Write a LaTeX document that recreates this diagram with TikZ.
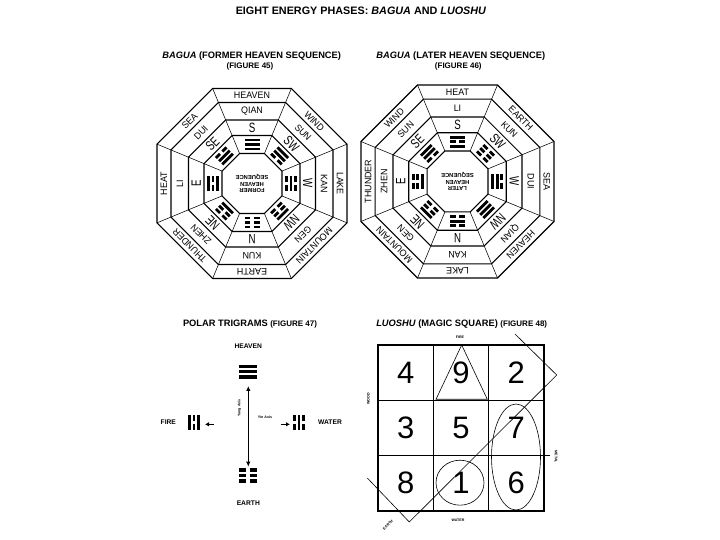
\documentclass[tikz,border=0pt]{standalone}
\usepackage{fontspec}
\setmainfont{Liberation Sans}
\newfontfamily\condfont[FakeStretch=0.72]{Liberation Sans}
\newfontfamily\bandfont[FakeStretch=0.95]{Liberation Sans}
\usetikzlibrary{arrows.meta}
\newcommand\trigline[2]{%
  \ifnum#1=1\relax
    \fill (-7.5,#2-1.4) rectangle (7.5,#2+1.4);%
  \else
    \fill (-7.5,#2-1.4) rectangle (-1.6,#2+1.4);%
    \fill (1.6,#2-1.4) rectangle (7.5,#2+1.4);%
  \fi}
\newcommand\octring[2][ring]{%
  \draw[#1] (22.5:#2*1.08239) \foreach \j in {1,...,7}{ -- (22.5+45*\j:#2*1.08239)} -- cycle;}
\tikzset{
  ring/.style={line width=1.05pt},
  outerring/.style={line width=1.15pt},
  spoke/.style={line width=0.55pt},
  bandlbl/.style={font=\bandfont\fontsize{9.4}{10}\selectfont, inner sep=0pt},
  dirlbl/.style={font=\condfont\fontsize{13.5}{14}\selectfont, inner sep=0pt},
  centerlbl/.style={font=\bfseries\fontsize{5.8}{6.3}\selectfont, align=center, inner sep=0pt},
  ttl/.style={font=\bfseries\fontsize{9.3}{10}\selectfont, inner sep=0pt},
  figlbl/.style={font=\bfseries\fontsize{8}{9}\selectfont, inner sep=0pt},
  plbl/.style={font=\bfseries\fontsize{6.7}{7}\selectfont, inner sep=0pt},
  tinylbl/.style={font=\bfseries\fontsize{3.6}{4}\selectfont, inner sep=0pt},
  num/.style={font=\fontsize{31}{31}\selectfont, inner sep=0pt},
  gridline/.style={line width=1.5pt},
  thinline/.style={line width=0.6pt},
  axisarrow/.style={line width=1.2pt, {Latex[length=5pt,width=4.5pt]}-{Latex[length=5pt,width=4.5pt]}},
  sidearrow/.style={line width=1.4pt, -{Latex[length=4pt,width=4.5pt]}},
  pics/trig/.style n args={3}{code={\trigline{#1}{-4.5}\trigline{#2}{0}\trigline{#3}{4.5}}},
}
% #1 center, #2 scale, #3 list, #4 center text, #5 name prefix
\newcommand\baguafig[5]{%
\begin{scope}[shift={#1}, scale=#2]
  \octring[outerring]{95}\octring{81}\octring{63.5}\octring{48}\octring{30}
  \foreach \j in {0,...,7}\draw[spoke] (22.5+45*\j:32.47) -- (22.5+45*\j:102.83);
  \foreach \k/\ot/\st/\dt/\ta/\tb/\tc in {#3}{
    \pgfmathsetmacro\ang{90-45*\k}
    \node[bandlbl, rotate=\ang-90] (#5o\k) at (\ang:88) {\ot};
    \node[bandlbl, rotate=\ang-90] (#5s\k) at (\ang:72.2) {\st};
    \node[dirlbl, rotate=\ang-90] (#5d\k) at (\ang:55.8) {\dt};
    \pic[rotate=\ang-90] (#5t\k) at (\ang:39) {trig={\ta}{\tb}{\tc}};
  }
  \node[centerlbl, rotate=180] (#5c) at (0,0) {#4};
\end{scope}}
\begin{document}
\begin{tikzpicture}[x=1pt, y=1pt]
\useasboundingbox (0,0) rectangle (720,540);
\fill[white] (0,0) rectangle (720,540);
% main title
\node[font=\bfseries\fontsize{10.8}{12}\selectfont, inner sep=0pt] (title) at (361,529)
  {EIGHT ENERGY PHASES: \textit{BAGUA} AND \textit{LUOSHU}};
% ---- Bagua former heaven
\node[ttl] (t45) at (251.7,484) {\textit{BAGUA} (FORMER HEAVEN SEQUENCE)};
\node[figlbl] (f45) at (250,473.5) {(FIGURE 45)};
\baguafig{(252,356.5)}{1}{0/HEAVEN/QIAN/S/1/1/1, 1/WIND/SUN/SW/0/1/1, 2/LAKE/KAN/W/0/1/0, 3/MOUNTAIN/GEN/NW/0/0/1, 4/EARTH/KUN/N/0/0/0, 5/THUNDER/ZHEN/NE/1/0/0, 6/HEAT/LI/E/1/0/1, 7/SEA/DUI/SE/1/1/0}{FORMER\\HEAVEN\\SEQUENCE}{L}
% ---- Bagua later heaven
\node[ttl] (t46) at (460.8,484) {\textit{BAGUA} (LATER HEAVEN SEQUENCE)};
\node[figlbl] (f46) at (458.3,473.5) {(FIGURE 46)};
\baguafig{(457.5,358.5)}{1.016}{0/HEAT/LI/S/1/0/1, 1/EARTH/KUN/SW/0/0/0, 2/SEA/DUI/W/1/1/0, 3/HEAVEN/QIAN/NW/1/1/1, 4/LAKE/KAN/N/0/1/0, 5/MOUNTAIN/GEN/NE/0/0/1, 6/THUNDER/ZHEN/E/1/0/0, 7/WIND/SUN/SE/0/1/1}{LATER\\HEAVEN\\SEQUENCE}{R}
% ---- Polar trigrams
\node[ttl] (t47) at (250,215.5) {POLAR TRIGRAMS {\fontsize{8}{9}\selectfont (FIGURE 47)}};
\node[plbl] (heaven) at (248.3,193.3) {HEAVEN};
\pic[scale=1.2] (qian) at (248.3,168.3) {trig={1}{1}{1}};
\pic[scale=1.2] (kun) at (248.3,64.5) {trig={0}{0}{0}};
\node[plbl] (earth) at (248.3,37) {EARTH};
\node[plbl] (fire) at (168.3,118.3) {FIRE};
\node[plbl] (water) at (330,118.3) {WATER};
\pic[rotate=90, scale=1.05] (li) at (194,117.5) {trig={1}{0}{1}};
\pic[rotate=90, scale=1.05] (kan) at (299,117.5) {trig={0}{1}{0}};
\coordinate (yangtop) at (248.3,154);
\coordinate (yangbot) at (248.3,73.3);
\draw[axisarrow] (yangtop) -- (yangbot);
\node[tinylbl, rotate=90] (yang) at (239.5,132) {Yang Axis};
\node[tinylbl] (yin) at (265,123) {Yin Axis};
\coordinate (la0) at (214,115.7);
\coordinate (la1) at (205,115.7);
\coordinate (ra0) at (281,115.7);
\coordinate (ra1) at (290,115.7);
\draw[sidearrow] (la0) -- (la1);
\draw[sidearrow] (ra0) -- (ra1);
% ---- Luoshu
\node[ttl] (t48) at (461.7,216) {\textit{LUOSHU} (MAGIC SQUARE) {\fontsize{8}{9}\selectfont (FIGURE 48)}};
\draw[gridline] (378,29) rectangle (544,195);
\draw[gridline] (433.3,29) -- (433.3,195) (488.7,29) -- (488.7,195)
  (378,139.7) -- (544,139.7) (378,84.3) -- (550,84.3);
\node[num] (n4) at (405.7,167.3) {4};
\node[num] (n9) at (461,167.3) {9};
\node[num] (n2) at (516.3,167.3) {2};
\node[num] (n3) at (405.7,112) {3};
\node[num] (n5) at (461,112) {5};
\node[num] (n7) at (516.3,112) {7};
\node[num] (n8) at (405.7,56.7) {8};
\node[num] (n1) at (461,56.7) {1};
\node[num] (n6) at (516.3,56.7) {6};
\draw[thinline] (461.7,195) -- (487.3,140.7) -- (436,140.7) -- cycle;
\draw[thinline] (460,57.3) ellipse [x radius=24, y radius=22.5];
\draw[thinline] (516,83) ellipse [x radius=24.5, y radius=53];
\draw[thinline] (367.3,62) -- (409.3,18) -- (556.7,165) -- (515,206);
\node[tinylbl] (lfire) at (460,203) {FIRE};
\node[tinylbl, rotate=90] (lwood) at (368.5,141) {WOOD};
\node[tinylbl, rotate=-90] (lmetal) at (556,83) {METAL};
\node[tinylbl] (lwater) at (458,20) {WATER};
\node[tinylbl, rotate=45] (learth) at (388,15) {EARTH};
\end{tikzpicture}
\end{document}
